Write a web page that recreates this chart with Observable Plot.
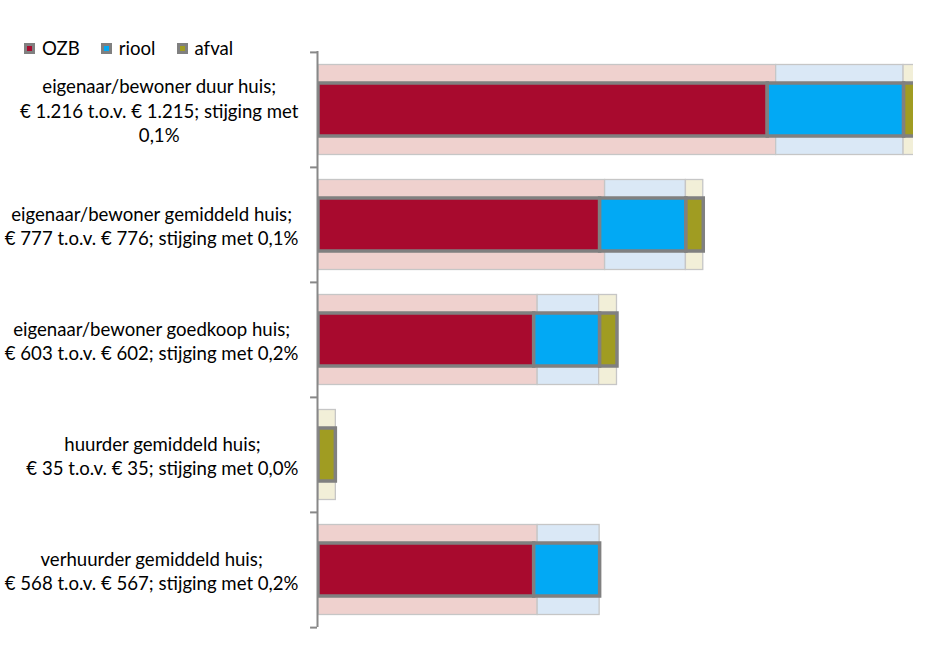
<!DOCTYPE html>
<html>
<head>
<meta charset="utf-8">
<script src="https://cdn.jsdelivr.net/npm/d3@7"></script>
<script src="https://cdn.jsdelivr.net/npm/@observablehq/plot@0.6"></script>
<style>
  html, body { margin: 0; padding: 0; background: #fff; }
  #wrap { position: relative; width: 945px; height: 658px; }
  #legend { position: absolute; left: 24px; top: 37px; display: flex; align-items: center; font-family: Lato, sans-serif; color: #000; }
  .item { display: flex; align-items: center; margin-right: 21px; }
  .sw { width: 5px; height: 5px; border: 3px solid #808080; margin-right: 7px; }
</style>
</head>
<body>
<div id="wrap"><div id="legend"></div></div>
<script>
const categories = ["duur", "gemiddeld", "goedkoop", "huurder", "verhuurder"];
const labels = [
  "eigenaar/bewoner duur huis;\n€ 1.216 t.o.v. € 1.215; stijging met\n0,1%",
  "eigenaar/bewoner gemiddeld huis;\n€ 777 t.o.v. € 776; stijging met 0,1%",
  "eigenaar/bewoner goedkoop huis;\n€ 603 t.o.v. € 602; stijging met 0,2%",
  "huurder gemiddeld huis;\n€ 35 t.o.v. € 35; stijging met 0,0%",
  "verhuurder gemiddeld huis;\n€ 568 t.o.v. € 567; stijging met 0,2%"
];
const series = ["OZB", "riool", "afval"];
// previous year (light background bars)
const ozbOud   = [923, 578, 442, 0, 442];
const rioolOud = [257, 163, 124, 0, 125];
const afvalOud = [35, 35, 36, 35, 0];
// current year (dark foreground bars)
const ozbNieuw   = [906, 568, 435, 0, 435];
const rioolNieuw = [275, 174, 133, 0, 133];
const afvalNieuw = [35, 35, 35, 35, 0];

const darkColors  = ["#A80A2E", "#02A9F4", "#A09C22"];
const lightColors = ["#EFD1CE", "#DAE8F6", "#F2EFD8"];

const W = 945, H = 658, mt = 51, mb = 31, ml = 318, mr = 32;
const fontFamily = "Lato";
const fontSize = 18.6;
const lineH = 24.4;

function rowsFor(year, arrays) {
  const out = [];
  categories.forEach((c, i) => {
    series.forEach((s, j) => {
      const v = arrays[j][i];
      if (v > 0) out.push({cat: c, series: s, key: s + "|" + year, value: v});
    });
  });
  return out;
}
const oud = rowsFor("oud", [ozbOud, rioolOud, afvalOud]);
const nieuw = rowsFor("nieuw", [ozbNieuw, rioolNieuw, afvalNieuw]);

const keys = [...series.map(s => s + "|oud"), ...series.map(s => s + "|nieuw")];
const keyColors = [...lightColors, ...darkColors];

// measure label widths for centered multi-line blocks, right-aligned as a block
const ctx = document.createElement("canvas").getContext("2d");
ctx.font = `${fontSize}px ${fontFamily}`;
const blockW = labels.map(l => d3.max(l.split("\n"), t => ctx.measureText(t).width));

const bw = (H - mt - mb) / categories.length;

const labelMarks = categories.map((c, i) =>
  Plot.text([i], {
    y: i => categories[i],
    text: i => labels[i],
    frameAnchor: "left",
    textAnchor: "middle",
    lineAnchor: "middle",
    dx: -(20 + blockW[i] / 2),
    fontSize,
    lineHeight: lineH / fontSize,
    fill: "#000"
  })
);

const chart = Plot.plot({
  width: W, height: H,
  marginTop: mt, marginBottom: mb, marginLeft: ml, marginRight: mr,
  x: {domain: [0, 1200], axis: null},
  y: {domain: categories, padding: 0, axis: null},
  color: {domain: keys, range: keyColors},
  style: {fontFamily, background: "white"},
  marks: [
    Plot.barX(oud, Plot.stackX({
      x: "value", y: "cat", fill: "key",
      stroke: "#c6c6c6", strokeWidth: 1.3,
      insetTop: 12.5, insetBottom: 12.5, clip: true
    })),
    Plot.barX(nieuw, Plot.stackX({
      x: "value", y: "cat", fill: "key",
      stroke: "#808080", strokeWidth: 3.5,
      insetTop: 31, insetBottom: 31, clip: true
    })),
    Plot.ruleX([0], {stroke: "#888", strokeWidth: 2, dx: -1}),
    Plot.ruleY(categories, {y: d => d, x1: -14, x2: 0, dx: -1, dy: -bw / 2, stroke: "#888", strokeWidth: 2}),
    Plot.ruleY(categories.slice(-1), {y: d => d, x1: -14, x2: 0, dx: -1, dy: bw / 2, stroke: "#888", strokeWidth: 2}),
    ...labelMarks
  ]
});

const wrap = document.getElementById("wrap");
wrap.insertBefore(chart, wrap.firstChild);

const legend = document.getElementById("legend");
legend.style.fontSize = fontSize + "px";
series.forEach((s, j) => {
  const item = document.createElement("div");
  item.className = "item";
  const sw = document.createElement("span");
  sw.className = "sw";
  sw.style.background = darkColors[j];
  const t = document.createElement("span");
  t.textContent = s;
  item.appendChild(sw);
  item.appendChild(t);
  legend.appendChild(item);
});
</script>
</body>
</html>
